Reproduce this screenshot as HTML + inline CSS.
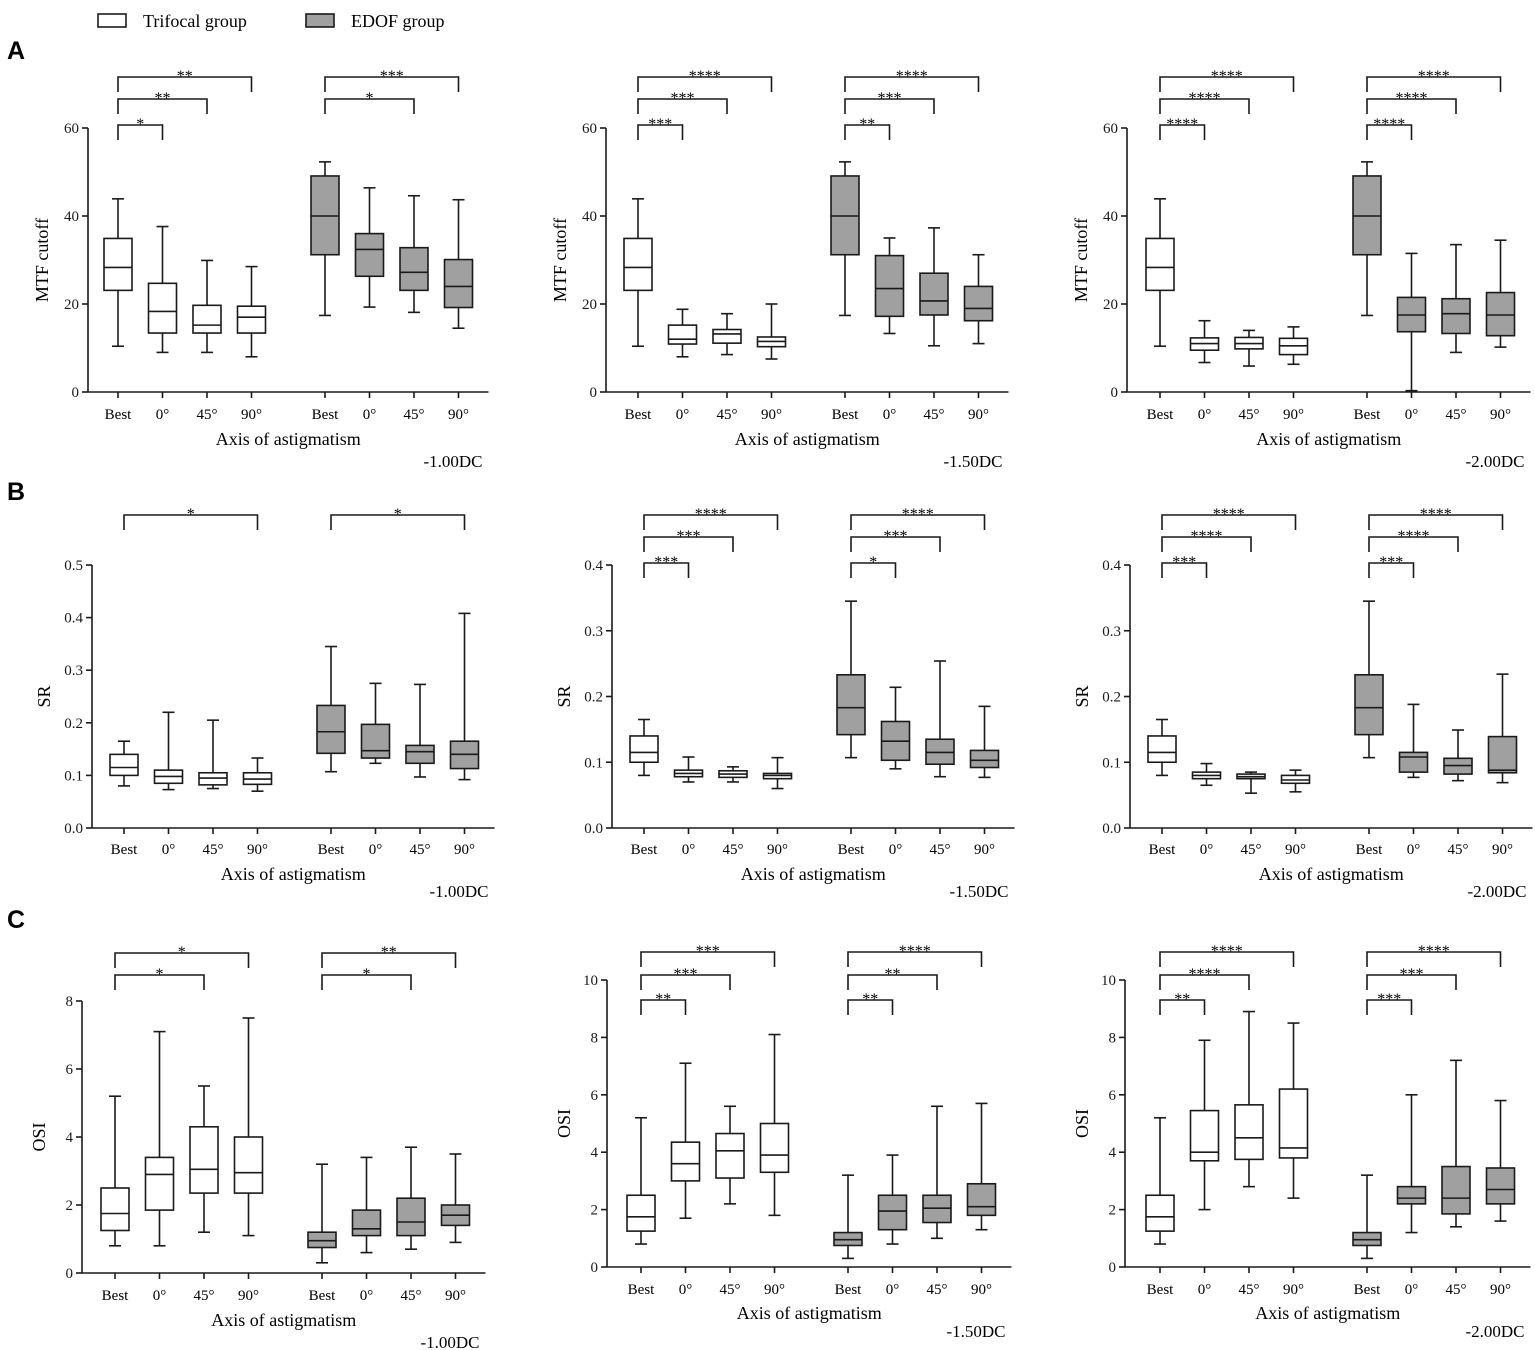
<!DOCTYPE html>
<html><head><meta charset="utf-8">
<style>
html,body{margin:0;padding:0;background:#fff;}
svg{display:block;font-family:"Liberation Serif",serif;}
</style></head>
<body>
<svg id="fig" width="1535" height="1350" viewBox="0 0 1535 1350" xmlns="http://www.w3.org/2000/svg">
<g>
<rect x="98" y="14" width="28" height="13" fill="#fff" stroke="#1a1a1a" stroke-width="1.6"/>
<text x="143" y="27" font-size="18">Trifocal group</text>
<rect x="306" y="14" width="28" height="13" fill="#a0a0a0" stroke="#1a1a1a" stroke-width="1.6"/>
<text x="351" y="27" font-size="18">EDOF group</text>
</g>
<text x="7" y="59" font-size="25" font-weight="bold" font-family="Liberation Sans, sans-serif">A</text>
<text x="7" y="500" font-size="25" font-weight="bold" font-family="Liberation Sans, sans-serif">B</text>
<text x="7" y="928" font-size="25" font-weight="bold" font-family="Liberation Sans, sans-serif">C</text>
</svg>
<script>
const categories = ["Best","0°","45°","90°"];
// order per array: Trifocal Best,0,45,90, EDOF Best,0,45,90
const A1_max=[43.9,37.6,29.9,28.5,52.3,46.4,44.6,43.7];
const A1_q3=[34.9,24.7,19.7,19.5,49.1,36,32.8,30.1];
const A1_med=[28.3,18.3,15.2,17,40,32.4,27.2,24];
const A1_q1=[23.1,13.4,13.4,13.4,31.2,26.3,23.1,19.2];
const A1_min=[10.4,9,9,8,17.4,19.3,18.1,14.5];
const A2_max=[43.9,18.8,17.8,20,52.3,35,37.3,31.2];
const A2_q3=[34.9,15.2,14.2,12.5,49.1,31,27,24];
const A2_med=[28.3,12,13.2,11.5,40,23.5,20.7,19];
const A2_q1=[23.1,10.9,11.1,10.3,31.2,17.2,17.5,16.2];
const A2_min=[10.4,8,8.5,7.5,17.4,13.3,10.5,11];
const A3_max=[43.9,16.2,14,14.8,52.3,31.5,33.5,34.5];
const A3_q3=[34.9,12.3,12.4,12.2,49.1,21.5,21.2,22.6];
const A3_med=[28.3,11,11,10.5,40,17.5,17.8,17.5];
const A3_q1=[23.1,9.5,9.8,8.5,31.2,13.7,13.3,12.8];
const A3_min=[10.4,6.7,5.9,6.3,17.4,0.3,9,10.2];
const B1_max=[0.165,0.22,0.205,0.133,0.345,0.275,0.273,0.408];
const B1_q3=[0.14,0.11,0.105,0.105,0.233,0.197,0.157,0.165];
const B1_med=[0.115,0.098,0.095,0.093,0.183,0.147,0.145,0.14];
const B1_q1=[0.1,0.085,0.082,0.083,0.142,0.133,0.123,0.113];
const B1_min=[0.08,0.073,0.075,0.07,0.107,0.123,0.097,0.092];
const B2_max=[0.165,0.108,0.093,0.107,0.345,0.214,0.254,0.185];
const B2_q3=[0.14,0.088,0.087,0.083,0.233,0.162,0.135,0.118];
const B2_med=[0.115,0.083,0.082,0.08,0.183,0.132,0.115,0.103];
const B2_q1=[0.1,0.078,0.077,0.075,0.142,0.103,0.097,0.092];
const B2_min=[0.08,0.07,0.07,0.06,0.107,0.09,0.078,0.077];
const B3_max=[0.165,0.098,0.085,0.088,0.345,0.188,0.149,0.234];
const B3_q3=[0.14,0.085,0.082,0.08,0.233,0.115,0.106,0.139];
const B3_med=[0.115,0.08,0.078,0.073,0.183,0.108,0.095,0.088];
const B3_q1=[0.1,0.075,0.075,0.068,0.142,0.085,0.082,0.084];
const B3_min=[0.08,0.065,0.053,0.055,0.107,0.077,0.072,0.069];
const C1_max=[5.2,7.1,5.5,7.5,3.2,3.4,3.7,3.5];
const C1_q3=[2.5,3.4,4.3,4.0,1.2,1.85,2.2,2.0];
const C1_med=[1.75,2.9,3.05,2.95,0.95,1.3,1.5,1.7];
const C1_q1=[1.25,1.85,2.35,2.35,0.75,1.1,1.1,1.4];
const C1_min=[0.8,0.8,1.2,1.1,0.3,0.6,0.7,0.9];
const C2_max=[5.2,7.1,5.6,8.1,3.2,3.9,5.6,5.7];
const C2_q3=[2.5,4.35,4.65,5.0,1.2,2.5,2.5,2.9];
const C2_med=[1.75,3.6,4.05,3.9,0.95,1.95,2.05,2.1];
const C2_q1=[1.25,3.0,3.1,3.3,0.75,1.3,1.55,1.8];
const C2_min=[0.8,1.7,2.2,1.8,0.3,0.8,1.0,1.3];
const C3_max=[5.2,7.9,8.9,8.5,3.2,6.0,7.2,5.8];
const C3_q3=[2.5,5.45,5.65,6.2,1.2,2.8,3.5,3.45];
const C3_med=[1.75,4.0,4.5,4.15,0.95,2.4,2.4,2.7];
const C3_q1=[1.25,3.7,3.75,3.8,0.75,2.2,1.85,2.2];
const C3_min=[0.8,2.0,2.8,2.4,0.3,1.2,1.4,1.6];
// significance labels: comparison Best vs 0°, 45°, 90°
const A1_sigTri=["*","**","**"], A1_sigEdof=["","*","***"];
const A2_sigTri=["***","***","****"], A2_sigEdof=["**","***","****"];
const A3_sigTri=["****","****","****"], A3_sigEdof=["****","****","****"];
const B1_sigTri=["","","*"], B1_sigEdof=["","","*"];
const B2_sigTri=["***","***","****"], B2_sigEdof=["*","***","****"];
const B3_sigTri=["***","****","****"], B3_sigEdof=["***","****","****"];
const C1_sigTri=["","*","*"], C1_sigEdof=["","*","**"];
const C2_sigTri=["**","***","***"], C2_sigEdof=["**","**","****"];
const C3_sigTri=["**","****","****"], C3_sigEdof=["***","***","****"];
const A_ticks=[0,20,40,60], B1_ticks=[0,0.1,0.2,0.3,0.4,0.5], B_ticks=[0,0.1,0.2,0.3,0.4];
const C1_ticks=[0,2,4,6,8], C_ticks=[0,2,4,6,8,10];

const NS="http://www.w3.org/2000/svg";
const svg=document.getElementById('fig');
function mk(tag,attrs,parent,txt){const e=document.createElementNS(NS,tag);for(const k in attrs)e.setAttribute(k,attrs[k]);if(txt!==undefined)e.textContent=txt;parent.appendChild(e);return e;}
const S="#1a1a1a";
const SW=1.6;
function panel(id,g){
  const P=mk('g',{},svg);
  
  
  const tmax=g.ticks[g.ticks.length-1];
  const Y=v=>g.y0-(v/tmax)*(g.y0-g.yTop);
  const X=i=>g.c0+(i%4)*44.5+(i>=4?207:0);
  const xEnd=g.c0+207+3*44.5+30;
  const ya=mk('line',{x1:g.ax,y1:g.yTop,x2:g.ax,y2:g.y0,stroke:S,'stroke-width':SW},P);
  
  const xa=mk('line',{x1:g.ax,y1:g.y0,x2:xEnd,y2:g.y0,stroke:S,'stroke-width':SW},P);
  
  g.ticks.forEach(t=>{
    mk('line',{x1:g.ax-6,y1:Y(t),x2:g.ax,y2:Y(t),stroke:S,'stroke-width':SW},P);
    const tl=mk('text',{x:g.ax-9,y:Y(t)+5,'font-size':15,'text-anchor':'end',fill:'#1a1a1a'},P,g.dec?t.toFixed(1):String(t));
    
  });
  const yl=mk('text',{x:0,y:0,'font-size':18,'text-anchor':'middle',transform:`translate(${g.ylx},${(g.yTop+g.y0)/2}) rotate(-90)`},P,g.ylabel);
  
  for(let i=0;i<8;i++){
    const x=X(i),w=28,fill=i<4?'#fff':'#a0a0a0';
    const bx=mk('g',{},P);
    
    
    mk('line',{x1:x,y1:Y(g.max[i]),x2:x,y2:Y(g.min[i]),stroke:S,'stroke-width':SW},bx);
    mk('line',{x1:x-6,y1:Y(g.max[i]),x2:x+6,y2:Y(g.max[i]),stroke:S,'stroke-width':SW},bx);
    mk('line',{x1:x-6,y1:Y(g.min[i]),x2:x+6,y2:Y(g.min[i]),stroke:S,'stroke-width':SW},bx);
    mk('rect',{x:x-w/2,y:Y(g.q3[i]),width:w,height:Y(g.q1[i])-Y(g.q3[i]),fill:fill,stroke:S,'stroke-width':SW},bx);
    mk('line',{x1:x-w/2,y1:Y(g.med[i]),x2:x+w/2,y2:Y(g.med[i]),stroke:S,'stroke-width':SW},bx);
    mk('line',{x1:x,y1:g.y0,x2:x,y2:g.y0+6,stroke:S,'stroke-width':SW},P);
    const cl=mk('text',{x:x,y:g.catY,'font-size':15,'text-anchor':'middle'},P,categories[i%4]);
    
  }
  [[g.sigTri,0],[g.sigEdof,4]].forEach(([sig,off])=>{
    sig.forEach((s,k)=>{
      if(!s)return;
      const yb=g.brY[k],x1=X(off),x2=X(off+k+1);
      const br=mk('g',{},P);
      
      
      mk('polyline',{points:`${x1},${yb+15} ${x1},${yb} ${x2},${yb} ${x2},${yb+15}`,fill:'none',stroke:S,'stroke-width':SW},br);
      mk('text',{x:(x1+x2)/2,y:yb+4,'font-size':16,'text-anchor':'middle'},br,s);
    });
  });
  const xt=mk('text',{x:(g.ax+xEnd)/2,y:g.xtY,'font-size':18,'text-anchor':'middle'},P,'Axis of astigmatism');
  
  const dc=mk('text',{x:xEnd-6,y:g.dcY,'font-size':17,'text-anchor':'end'},P,g.dc);
  
}
const rowA={y0:392,yTop:128,ticks:A_ticks,dec:false,ylabel:'MTF cutoff',catY:419,xtY:445,dcY:467,brY:[125,99,77]};
panel('a1',Object.assign({},rowA,{ax:88,c0:118,ylx:48,dc:'-1.00DC',max:A1_max,q3:A1_q3,med:A1_med,q1:A1_q1,min:A1_min,sigTri:A1_sigTri,sigEdof:A1_sigEdof}));
panel('a2',Object.assign({},rowA,{ax:606,c0:638,ylx:566,dc:'-1.50DC',max:A2_max,q3:A2_q3,med:A2_med,q1:A2_q1,min:A2_min,sigTri:A2_sigTri,sigEdof:A2_sigEdof}));
panel('a3',Object.assign({},rowA,{ax:1127,c0:1160,ylx:1087,dc:'-2.00DC',max:A3_max,q3:A3_q3,med:A3_med,q1:A3_q1,min:A3_min,sigTri:A3_sigTri,sigEdof:A3_sigEdof}));
const rowB={y0:828,yTop:565,dec:true,ylabel:'SR',catY:854,xtY:880,dcY:897,brY:[563,537,515]};
panel('b1',Object.assign({},rowB,{ax:92,c0:124,ticks:B1_ticks,ylx:50,dc:'-1.00DC',max:B1_max,q3:B1_q3,med:B1_med,q1:B1_q1,min:B1_min,sigTri:B1_sigTri,sigEdof:B1_sigEdof}));
panel('b2',Object.assign({},rowB,{ax:612,c0:644,ticks:B_ticks,ylx:570,dc:'-1.50DC',max:B2_max,q3:B2_q3,med:B2_med,q1:B2_q1,min:B2_min,sigTri:B2_sigTri,sigEdof:B2_sigEdof}));
panel('b3',Object.assign({},rowB,{ax:1130,c0:1162,ticks:B_ticks,ylx:1088,dc:'-2.00DC',max:B3_max,q3:B3_q3,med:B3_med,q1:B3_q1,min:B3_min,sigTri:B3_sigTri,sigEdof:B3_sigEdof}));
panel('c1',{y0:1273,yTop:1001,ticks:C1_ticks,dec:false,ylabel:'OSI',catY:1300,xtY:1326,dcY:1348,brY:[998,975,953],ax:82,c0:115,ylx:45,dc:'-1.00DC',max:C1_max,q3:C1_q3,med:C1_med,q1:C1_q1,min:C1_min,sigTri:C1_sigTri,sigEdof:C1_sigEdof});
const rowC={y0:1267,yTop:980,ticks:C_ticks,dec:false,ylabel:'OSI',catY:1294,xtY:1319,dcY:1337,brY:[1000,975,952]};
panel('c2',Object.assign({},rowC,{ax:607,c0:641,ylx:570,dc:'-1.50DC',max:C2_max,q3:C2_q3,med:C2_med,q1:C2_q1,min:C2_min,sigTri:C2_sigTri,sigEdof:C2_sigEdof}));
panel('c3',Object.assign({},rowC,{ax:1125,c0:1160,ylx:1088,dc:'-2.00DC',max:C3_max,q3:C3_q3,med:C3_med,q1:C3_q1,min:C3_min,sigTri:C3_sigTri,sigEdof:C3_sigEdof}));
</script>
</body></html>
